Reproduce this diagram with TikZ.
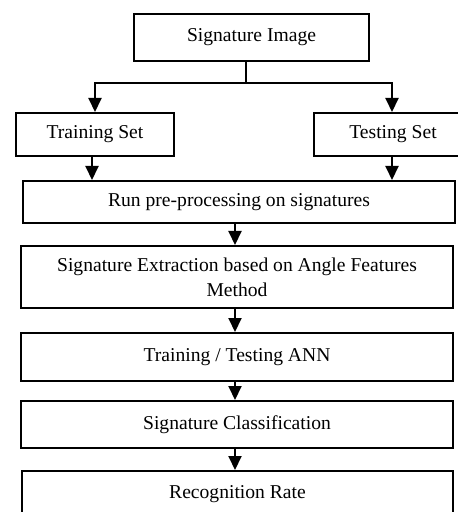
\documentclass[tikz,border=0pt]{standalone}
\usepackage{fontspec}
\setmainfont{Liberation Serif}
\usetikzlibrary{arrows.meta}

\tikzset{
  blk/.style={draw,line width=1pt,anchor=north west,inner sep=0pt,align=center,font=\fontsize{9.8}{12.5}\selectfont},
  flow/.style={line width=1pt,-{Triangle[width=6.5pt,length=7pt]}}
}

\begin{document}
\begin{tikzpicture}[x=0.5pt,y=-0.5pt]
\useasboundingbox (0,0) rectangle (458,512);
\clip (0,0) rectangle (458,512);
% boxes, placed by their top left corner
\node[blk,minimum width=117.5pt,minimum height=23.5pt] (img) at (133,13) {Signature Image};
\node[blk,minimum width=79pt,minimum height=21.5pt] (train) at (15,112) {Training Set};
\node[blk,minimum width=79pt,minimum height=21.5pt] (test) at (313,112) {Testing Set};
\node[blk,minimum width=216pt,minimum height=21pt] (run) at (22,180) {Run pre-processing on signatures};
\node[blk,minimum width=216pt,minimum height=31pt] (ext) at (20,245) {Signature Extraction based on Angle Features\\Method};
\node[blk,minimum width=216pt,minimum height=24pt] (ann) at (20,332) {Training / Testing ANN};
\node[blk,minimum width=216pt,minimum height=23.5pt] (cls) at (20,400) {Signature Classification};
\node[blk,minimum width=215.5pt,minimum height=23pt] (rec) at (21,470) {Recognition Rate};
% split below the image box
\coordinate (split) at (246,83);
\draw[line width=1pt] (img.south -| split) -- (split);
\draw[flow] (split) -| (train.north -| 95,0);
\draw[flow] (split) -| (test.north -| 392,0);
% main chain
\draw[flow] (train.south -| 92,0) -- (run.north -| 92,0);
\draw[flow] (test.south -| 392,0) -- (run.north -| 392,0);
\draw[flow] (run.south -| 235,0) -- (ext.north -| 235,0);
\draw[flow] (ext.south -| 235,0) -- (ann.north -| 235,0);
\draw[flow] (ann.south -| 235,0) -- (cls.north -| 235,0);
\draw[flow] (cls.south -| 235,0) -- (rec.north -| 235,0);
\end{tikzpicture}
\end{document}
